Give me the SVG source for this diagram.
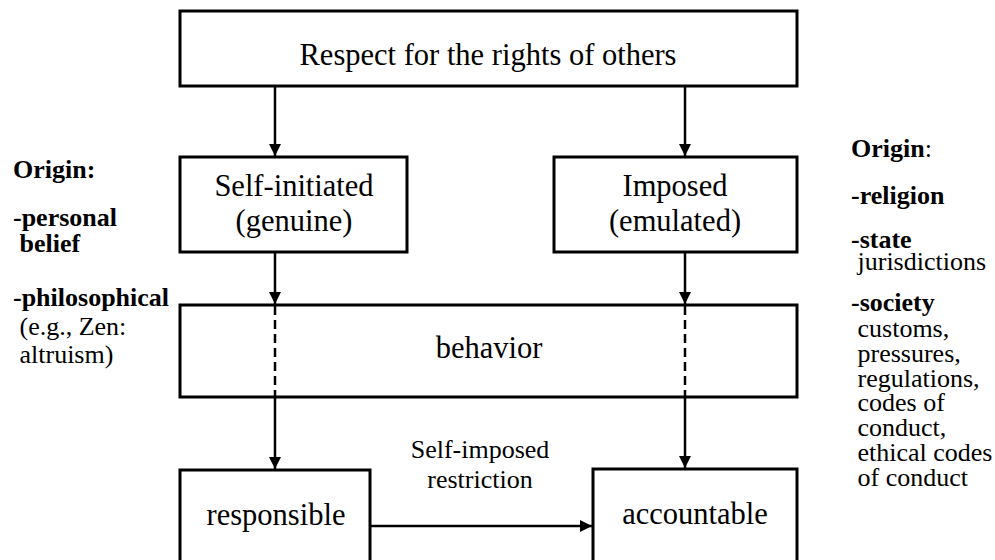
<svg xmlns="http://www.w3.org/2000/svg" width="995" height="560" viewBox="0 0 995 560" font-family="'Liberation Serif', 'Times New Roman', Times, 'DejaVu Serif', serif">
<defs>
<style>
text{font-family:'Liberation Serif','Times New Roman',Times,'DejaVu Serif',serif;fill:#000}
.box{fill:#fff;stroke:#000;stroke-width:3}
.t{font-size:30.5px;text-anchor:middle}
.s{font-size:26px}
.b{font-weight:bold}
.ln{stroke:#000;stroke-width:2.5;fill:none}
.dash{stroke:#000;stroke-width:2.5;fill:none;stroke-dasharray:9 5}
</style>
<marker id="ah" viewBox="0 0 12 12" refX="12" refY="6" markerWidth="12" markerHeight="12" markerUnits="userSpaceOnUse" orient="auto">
<path d="M0,0 L12,6 L0,12 Z" fill="#000"/>
</marker>
</defs>
<rect width="995" height="560" fill="#fff"/>
<g id="connectors">
<line class="ln" x1="275" y1="86" x2="275" y2="156" marker-end="url(#ah)"/>
<line class="ln" x1="685" y1="86" x2="685" y2="156" marker-end="url(#ah)"/>
<line class="ln" x1="275" y1="252" x2="275" y2="304" marker-end="url(#ah)"/>
<line class="ln" x1="685" y1="252" x2="685" y2="304" marker-end="url(#ah)"/>
<line class="ln" x1="275" y1="397" x2="275" y2="469" marker-end="url(#ah)"/>
<line class="ln" x1="685" y1="397" x2="685" y2="468" marker-end="url(#ah)"/>
<line class="ln" x1="370" y1="526" x2="592" y2="526" marker-end="url(#ah)"/>
</g>
<g id="n-respect">
<rect class="box" x="180" y="11" width="617" height="75"/>
<text class="t" x="488" y="65" font-family="'Liberation Serif', serif">Respect for the rights of others</text>
</g>
<g id="n-self">
<rect class="box" x="180" y="157" width="227" height="95"/>
<text class="t" x="294" y="196">Self-initiated</text>
<text class="t" x="294" y="231">(genuine)</text>
</g>
<g id="n-imposed">
<rect class="box" x="554" y="157" width="243" height="95"/>
<text class="t" x="675" y="196">Imposed</text>
<text class="t" x="675" y="231">(emulated)</text>
</g>
<g id="n-behavior">
<rect class="box" x="180" y="305" width="617" height="92"/>
<text class="t" x="489" y="358">behavior</text>
<line class="dash" x1="275" y1="306" x2="275" y2="396"/>
<line class="dash" x1="685" y1="306" x2="685" y2="396"/>
</g>
<g id="n-responsible">
<rect class="box" x="180" y="470" width="190" height="110"/>
<text class="t" x="276" y="525">responsible</text>
</g>
<g id="n-accountable">
<rect class="box" x="593" y="469" width="204" height="111"/>
<text class="t" x="695" y="524">accountable</text>
</g>
<g id="label-restriction">
<text class="s" x="480" y="458" text-anchor="middle">Self-imposed<tspan x="480" dy="30">restriction</tspan></text>
</g>
<g id="left-origin">
<text class="s b" x="13" y="178">Origin:</text>
<text class="s b" x="13" y="226" xml:space="preserve">-personal<tspan x="13" dy="26"> belief</tspan></text>
<text class="s" x="13" y="306" xml:space="preserve"><tspan class="b">-philosophical</tspan><tspan x="13" dy="29"> (e.g., Zen:</tspan><tspan x="13" dy="28"> altruism)</tspan></text>
</g>
<g id="right-origin">
<text class="s" x="851" y="157"><tspan class="b">Origin</tspan>:</text>
<text class="s b" x="851" y="204">-religion</text>
<text class="s" x="851" y="248" xml:space="preserve"><tspan class="b">-state</tspan><tspan x="851" dy="22"> jurisdictions</tspan></text>
<text class="s" x="851" y="311" xml:space="preserve"><tspan class="b">-society</tspan><tspan x="851" dy="26"> customs,</tspan><tspan x="851" dy="25"> pressures,</tspan><tspan x="851" dy="25"> regulations,</tspan><tspan x="851" dy="24"> codes of</tspan><tspan x="851" dy="25"> conduct,</tspan><tspan x="851" dy="25"> ethical codes</tspan><tspan x="851" dy="25"> of conduct</tspan></text>
</g>
</svg>
